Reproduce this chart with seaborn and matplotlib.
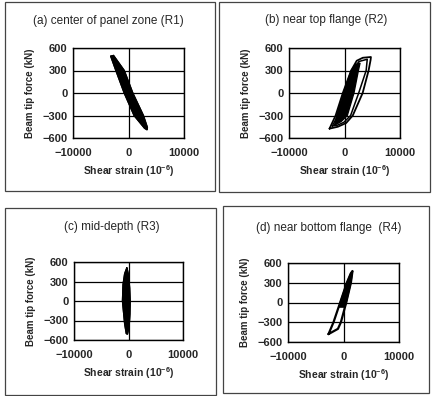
import matplotlib
matplotlib.use('Agg')
import matplotlib.pyplot as plt
import seaborn as sns
from matplotlib.patches import Rectangle

# panel titles
titles = ['(a) center of panel zone (R1)', '(b) near top flange (R2)',
          '(c) mid-depth (R3)', '(d) near bottom flange  (R4)']

x_ticks = [-10000, 0, 10000]
y_ticks = [-600, -300, 0, 300, 600]

# (a) narrow filled band
a_strain = [-3200, -2700, -770, 770, 2680, 3400, 3350, 2900, 1010, -770, -2270, -3050, -3200]
a_force = [490, 500, 300, 0, -300, -460, -490, -470, -300, 0, 300, 460, 490]

# (b) outer loop, middle loop, filled core
b_outer_strain = [-2700, -1600, -300, 1200, 2200, 3300, 4760, 4700, 4340, 3270, 1490, 300, -1200, -2700]
b_outer_force = [-475, -300, 0, 300, 430, 470, 480, 440, 300, 0, -300, -400, -450, -475]
b_mid_strain = [-2200, -1200, 100, 1400, 2600, 4100, 3900, 2560, 1100, -100, -1300, -2200]
b_mid_force = [-440, -300, 0, 300, 420, 450, 300, 0, -300, -390, -430, -440]
b_core_strain = [-1800, -1400, -200, 1200, 2000, 2800, 2500, 1700, 500, -600, -1800]
b_core_force = [-430, -300, 0, 300, 380, 400, 300, 0, -300, -380, -430]

# (c) vertical filled band
c_strain = [-300, 0, 200, 300, 250, 100, -200, -400, -700, -1100, -1000, -700, -300]
c_force = [510, 400, 200, 0, -200, -400, -510, -500, -350, 0, 250, 420, 510]

# (d) outer loop and filled upper part
d_outer_strain = [-2700, -1800, -600, 600, 1300, 1620, 1330, 490, -470, -1000, -2700]
d_outer_force = [-480, -300, 0, 300, 440, 478, 300, 0, -300, -400, -480]
d_core_strain = [-820, -600, 600, 1300, 1620, 1330, 490, 250, -820]
d_core_force = [-70, 0, 300, 440, 478, 300, 0, -70, -70]

sns.set_style('white')
plt.rcParams['font.family'] = ['Liberation Sans', 'DejaVu Sans']
plt.rcParams['font.weight'] = 'bold'
plt.rcParams['mathtext.fontset'] = 'custom'
plt.rcParams['mathtext.rm'] = 'Liberation Sans:bold'
plt.rcParams['mathtext.it'] = 'Liberation Sans:bold'

W, H = 433, 396
fig = plt.figure(figsize=(W / 100, H / 100), dpi=100)

# axes rectangles in pixels: left, top, right, bottom
ax_px = [(73, 48, 184, 138), (289, 48, 400, 138), (74, 262, 183, 340), (288, 263, 399, 342)]
box_px = [(5, 2, 215, 191), (219, 2, 430, 192), (5, 208, 216, 395), (223, 206, 429, 393)]
title_pos = [(108, 21), (326, 20), (112, 227), (329, 228)]

axes = []
for (l, t, r, b) in ax_px:
    ax = fig.add_axes([l / W, 1 - b / H, (r - l) / W, (b - t) / H])
    axes.append(ax)

for (l, t, r, b) in box_px:
    fig.patches.append(Rectangle((l / W, 1 - b / H), (r - l) / W, (b - t) / H,
                                 transform=fig.transFigure, fill=False,
                                 edgecolor='#444444', lw=0.9))

# (a)
axes[0].fill(a_strain, a_force, color='black', zorder=3)
sns.lineplot(x=a_strain, y=a_force, sort=False, estimator=None, color='black', lw=1, ax=axes[0])

# (b)
axes[1].fill(b_core_strain, b_core_force, color='black', zorder=3)
sns.lineplot(x=b_outer_strain, y=b_outer_force, sort=False, estimator=None, color='black', lw=1.3, ax=axes[1])
sns.lineplot(x=b_mid_strain, y=b_mid_force, sort=False, estimator=None, color='black', lw=1.1, ax=axes[1])

# (c)
axes[2].fill(c_strain, c_force, color='black', zorder=3)
sns.lineplot(x=c_strain, y=c_force, sort=False, estimator=None, color='black', lw=1, ax=axes[2])

# (d)
axes[3].fill(d_core_strain, d_core_force, color='black', zorder=3)
sns.lineplot(x=d_outer_strain, y=d_outer_force, sort=False, estimator=None, color='black', lw=1.6, ax=axes[3])

for i, ax in enumerate(axes):
    ax.set_xlim(-10000, 10000)
    ax.set_ylim(-600, 600)
    ax.set_xticks(x_ticks)
    ax.set_yticks(y_ticks)
    ax.grid(True, color='black', lw=0.9)
    ax.set_axisbelow(True)
    for s in ax.spines.values():
        s.set_color('black')
        s.set_linewidth(1.0)
    ax.tick_params(length=0, labelsize=8, pad=4)
    ax.tick_params(axis='x', pad=7)
    ax.set_xlabel('Shear strain (10$^{-6}$)', fontsize=7.5, fontweight='bold')
    ax.set_ylabel('Beam tip force (kN)', fontsize=7, fontweight='bold', labelpad=5)
    fig.text(title_pos[i][0] / W, 1 - title_pos[i][1] / H, titles[i],
             fontsize=8.5, ha='center', va='center', fontweight='normal')

fig.savefig('out.png', dpi=100)
